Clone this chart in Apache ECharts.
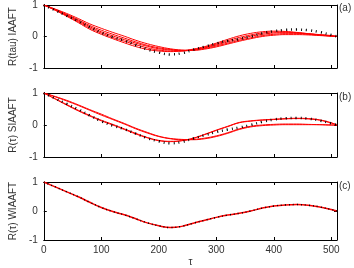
<!DOCTYPE html>
<html>
<head>
<meta charset="utf-8">
<script src="https://cdn.jsdelivr.net/npm/echarts@6/dist/echarts.min.js"></script>
<style>
  html, body { margin: 0; padding: 0; background: #fff; }
  #chart { width: 354px; height: 268px; }
</style>
</head>
<body>
<div id="chart"></div>
<script>
// lag values (tau)
const tau = [0, 20, 40, 60, 80, 100, 120, 140, 160, 180, 200, 220, 240, 260, 280, 300, 320, 340, 360, 380, 400, 420, 440, 460, 480, 500, 510];

// autocorrelation of the original series (dotted, and the line in panel c)
const original = [1.0, 0.83, 0.66, 0.49, 0.30, 0.12, -0.02, -0.13, -0.27, -0.41, -0.51, -0.57, -0.53, -0.42, -0.32, -0.22, -0.14, -0.08, 0.0, 0.10, 0.17, 0.21, 0.22, 0.20, 0.14, 0.05, 0.0];

// panel (a): IAAFT surrogates
const iaaft1 = [1.0, 0.87, 0.73, 0.57, 0.40, 0.26, 0.13, 0.01, -0.12, -0.23, -0.32, -0.39, -0.43, -0.44, -0.40, -0.33, -0.24, -0.15, -0.07, 0.00, 0.04, 0.06, 0.06, 0.05, 0.03, 0.01, 0.0];
const iaaft2 = [1.0, 0.86, 0.70, 0.53, 0.35, 0.20, 0.07, -0.05, -0.17, -0.28, -0.36, -0.41, -0.44, -0.43, -0.38, -0.30, -0.21, -0.12, -0.04, 0.03, 0.07, 0.09, 0.09, 0.07, 0.04, 0.01, 0.0];
const iaaft3 = [1.0, 0.85, 0.68, 0.50, 0.31, 0.15, 0.02, -0.10, -0.21, -0.31, -0.39, -0.43, -0.45, -0.42, -0.36, -0.27, -0.17, -0.08, 0.01, 0.07, 0.11, 0.12, 0.11, 0.08, 0.05, 0.02, 0.0];
const iaaft4 = [1.0, 0.84, 0.66, 0.47, 0.27, 0.11, -0.03, -0.15, -0.26, -0.36, -0.43, -0.46, -0.46, -0.42, -0.34, -0.24, -0.13, -0.03, 0.05, 0.11, 0.14, 0.14, 0.12, 0.09, 0.06, 0.03, 0.0];
const iaaft5 = [1.0, 0.83, 0.64, 0.44, 0.23, 0.07, -0.07, -0.20, -0.32, -0.41, -0.46, -0.48, -0.46, -0.40, -0.32, -0.21, -0.09, 0.02, 0.10, 0.15, 0.17, 0.16, 0.13, 0.09, 0.05, 0.02, 0.0];

// panel (b): SIAAFT surrogates
const siaaft1 = [1.0, 0.89, 0.77, 0.63, 0.48, 0.34, 0.19, 0.05, -0.10, -0.23, -0.35, -0.42, -0.45, -0.46, -0.43, -0.36, -0.26, -0.14, -0.06, -0.02, 0.0, 0.01, 0.01, 0.01, 0.01, 0.0, 0.0];
const siaaft2 = [1.0, 0.88, 0.75, 0.61, 0.46, 0.31, 0.17, 0.03, -0.12, -0.25, -0.36, -0.43, -0.46, -0.45, -0.41, -0.34, -0.24, -0.12, -0.04, 0.0, 0.02, 0.03, 0.03, 0.02, 0.01, 0.0, 0.0];
const siaaft3 = [1.0, 0.82, 0.64, 0.46, 0.30, 0.15, 0.02, -0.12, -0.26, -0.39, -0.48, -0.51, -0.49, -0.42, -0.30, -0.17, -0.05, 0.07, 0.12, 0.15, 0.17, 0.19, 0.20, 0.19, 0.15, 0.06, 0.0];
const siaaft4 = [1.0, 0.81, 0.62, 0.44, 0.28, 0.13, 0.0, -0.14, -0.28, -0.40, -0.49, -0.52, -0.49, -0.41, -0.29, -0.16, -0.04, 0.08, 0.13, 0.16, 0.18, 0.20, 0.21, 0.20, 0.16, 0.07, 0.0];

const yTicks = [-1, 0, 1];
const panelNames = ['R(tau) IAAFT', 'R(\u03c4) SIAAFT', 'R(\u03c4) WIAAFT'];
const panelTags = ['(a)', '(b)', '(c)'];

const chart = echarts.init(document.getElementById('chart'), null, { renderer: 'canvas' });

const font = 'Liberation Sans, Arial, sans-serif';
const tops = [4, 93, 182];
const pair = arr => tau.map((t, i) => [t, arr[i]]);

const grids = tops.map(t => ({ left: 31, right: 17, top: t, height: 64 }));
const xAxes = [];
const yAxes = [];
tops.forEach((t, g) => {
  const last = g === 2;
  xAxes.push({
    type: 'value', gridIndex: g, min: 0, max: 510, interval: 100, position: 'bottom',
    axisLine: { onZero: false, lineStyle: { color: '#000', width: 1 } },
    axisTick: { inside: true, length: 3, lineStyle: { color: '#000' } },
    axisLabel: { show: last, showMaxLabel: false, color: '#333', fontSize: 10, fontFamily: font, margin: 5 },
    splitLine: { show: false },
    name: last ? '\u03c4' : '', nameLocation: 'middle', nameGap: 17,
    nameTextStyle: { color: '#333', fontSize: 10, fontFamily: font }
  });
  xAxes.push({
    type: 'value', gridIndex: g, min: 0, max: 510, interval: 100, position: 'top',
    axisLine: { onZero: false, lineStyle: { color: '#000', width: 1 } },
    axisTick: { inside: true, length: 3, lineStyle: { color: '#000' } },
    axisLabel: { show: false },
    splitLine: { show: false }
  });
  yAxes.push({
    type: 'value', gridIndex: g, min: yTicks[0], max: yTicks[2], interval: 1, position: 'left',
    axisLine: { show: true, onZero: false, lineStyle: { color: '#000', width: 1 } },
    axisTick: { show: true, inside: true, length: 3, lineStyle: { color: '#000' } },
    axisLabel: { color: '#333', fontSize: 10, fontFamily: font, margin: 6 },
    splitLine: { show: false },
    name: panelNames[g], nameLocation: 'middle', nameGap: 19, nameRotate: 90,
    nameTextStyle: { color: '#333', fontSize: 10, fontFamily: font }
  });
  yAxes.push({
    type: 'value', gridIndex: g, min: yTicks[0], max: yTicks[2], interval: 1, position: 'right',
    axisLine: { show: true, onZero: false, lineStyle: { color: '#000', width: 1 } },
    axisTick: { show: true, inside: true, length: 3, lineStyle: { color: '#000' } },
    axisLabel: { show: false },
    splitLine: { show: false }
  });
});

const redLine = (arr, g) => ({
  type: 'line', xAxisIndex: g * 2, yAxisIndex: g * 2, data: pair(arr),
  smooth: 0.4, showSymbol: false, silent: true,
  lineStyle: { color: '#ff0000', width: 1 }
});
const dotLine = (arr, g) => ({
  type: 'line', xAxisIndex: g * 2, yAxisIndex: g * 2, data: pair(arr),
  smooth: 0.4, showSymbol: false, silent: true, z: 5,
  lineStyle: { color: '#000', width: 2.5, type: [1, 4] }
});

const series = [
  redLine(iaaft1, 0), redLine(iaaft2, 0), redLine(iaaft3, 0), redLine(iaaft4, 0), redLine(iaaft5, 0),
  dotLine(original, 0),
  redLine(siaaft1, 1), redLine(siaaft2, 1), redLine(siaaft3, 1), redLine(siaaft4, 1),
  dotLine(original, 1),
  Object.assign(redLine(original, 2), { lineStyle: { color: '#ff0000', width: 1.5 } }),
  Object.assign(dotLine(original, 2), { lineStyle: { color: '#000', width: 1.5, type: [1, 3] } })
];

const option = {
  animation: false,
  grid: grids,
  xAxis: xAxes,
  yAxis: yAxes,
  series: series,
  graphic: panelTags.map((tag, g) => ({
    type: 'text', left: 339, top: tops[g] - 1,
    style: { text: tag, fill: '#333', font: '10px ' + font }
  }))
};
chart.setOption(option);
</script>
</body>
</html>
